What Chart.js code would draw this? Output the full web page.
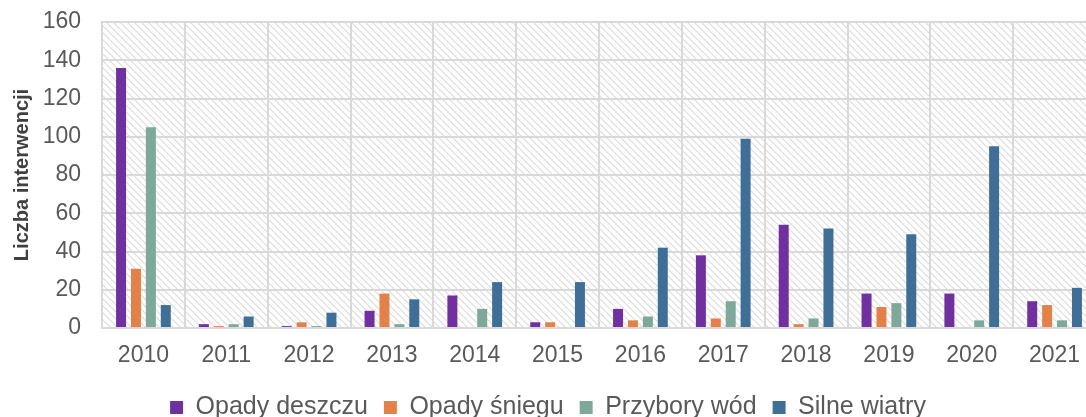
<!DOCTYPE html>
<html>
<head>
<meta charset="utf-8">
<script src="https://cdn.jsdelivr.net/npm/chart.js@4"></script>
<style>
  html, body { margin: 0; padding: 0; background: #fff; overflow: hidden; }
  #wrap { width: 1107px; height: 430px; }
</style>
</head>
<body>
<div id="wrap"><canvas id="chart" width="1107" height="430"></canvas></div>
<script>
// Data
const years = ['2010', '2011', '2012', '2013', '2014', '2015', '2016', '2017', '2018', '2019', '2020', '2021'];
const deszcz = [136, 2, 1, 9, 17, 3, 10, 38, 54, 18, 18, 14];
const snieg = [31, 1, 3, 18, 0, 3, 4, 5, 2, 11, 0, 12];
const przybory = [105, 2, 1, 2, 10, 0, 6, 14, 5, 13, 4, 4];
const wiatry = [12, 6, 8, 15, 24, 24, 42, 99, 52, 49, 95, 21];
const yTicks = [0, 20, 40, 60, 80, 100, 120, 140, 160];

const gridColor = '#d9d9d9';
const textColor = '#595959';

// diagonal hatch behind the plot area
function makeHatch() {
  const s = 7;
  const c = document.createElement('canvas');
  c.width = s; c.height = s;
  const g = c.getContext('2d');
  g.fillStyle = '#fff';
  g.fillRect(0, 0, s, s);
  g.strokeStyle = '#dcdcdc';
  g.lineWidth = 1.2;
  g.beginPath();
  g.moveTo(-1, -1); g.lineTo(s + 1, s + 1);
  g.moveTo(-1, s - 1); g.lineTo(1, s + 1);
  g.moveTo(s - 1, -1); g.lineTo(s + 1, 1);
  g.stroke();
  return c;
}

const hatchPlugin = {
  id: 'hatch',
  beforeDraw(chart) {
    const { ctx, chartArea: a } = chart;
    ctx.save();
    ctx.fillStyle = ctx.createPattern(makeHatch(), 'repeat');
    ctx.fillRect(a.left, a.top, a.right - a.left, a.bottom - a.top);
    ctx.restore();
  }
};

const ctx = document.getElementById('chart').getContext('2d');
new Chart(ctx, {
  type: 'bar',
  data: {
    labels: years,
    datasets: [
      { label: 'Opady deszczu', data: deszcz, backgroundColor: '#7030a0' },
      { label: 'Opady śniegu', data: snieg, backgroundColor: '#e2824a' },
      { label: 'Przybory wód', data: przybory, backgroundColor: '#7da89a' },
      { label: 'Silne wiatry', data: wiatry, backgroundColor: '#3f6e96' }
    ]
  },
  options: {
    responsive: false,
    animation: false,
    datasets: {
      bar: { categoryPercentage: 0.72, barPercentage: 0.67 }
    },
    layout: { padding: { left: 0, right: 11, top: 0, bottom: 0 } },
    scales: {
      x: {
        grid: { color: gridColor, lineWidth: 2, drawTicks: false },
        border: { color: gridColor, width: 2 },
        ticks: { color: textColor, font: { family: 'Liberation Sans', size: 23 }, padding: 14 },
        afterFit: s => { s.height = 51; }
      },
      y: {
        min: 0,
        max: 160,
        afterBuildTicks: s => { s.ticks = yTicks.map(v => ({ value: v })); },
        grid: { color: gridColor, lineWidth: 2, drawTicks: false },
        border: { color: gridColor, width: 2 },
        ticks: { color: textColor, font: { family: 'Liberation Sans', size: 23 }, padding: 21 },
        title: {
          display: true,
          text: 'Liczba interwencji',
          color: '#404040',
          font: { family: 'Liberation Sans', size: 20, weight: 'bold' },
          padding: { top: 10, bottom: 0 }
        },
        afterFit: s => { s.width = 102; s.paddingTop = 22; s.paddingBottom = 0; }
      }
    },
    plugins: {
      legend: {
        position: 'bottom',
        labels: {
          color: textColor,
          font: { family: 'Liberation Sans', size: 25 },
          boxWidth: 13,
          boxHeight: 13,
          padding: 16
        }
      },
      tooltip: { enabled: false }
    }
  },
  plugins: [hatchPlugin]
});
</script>
</body>
</html>
